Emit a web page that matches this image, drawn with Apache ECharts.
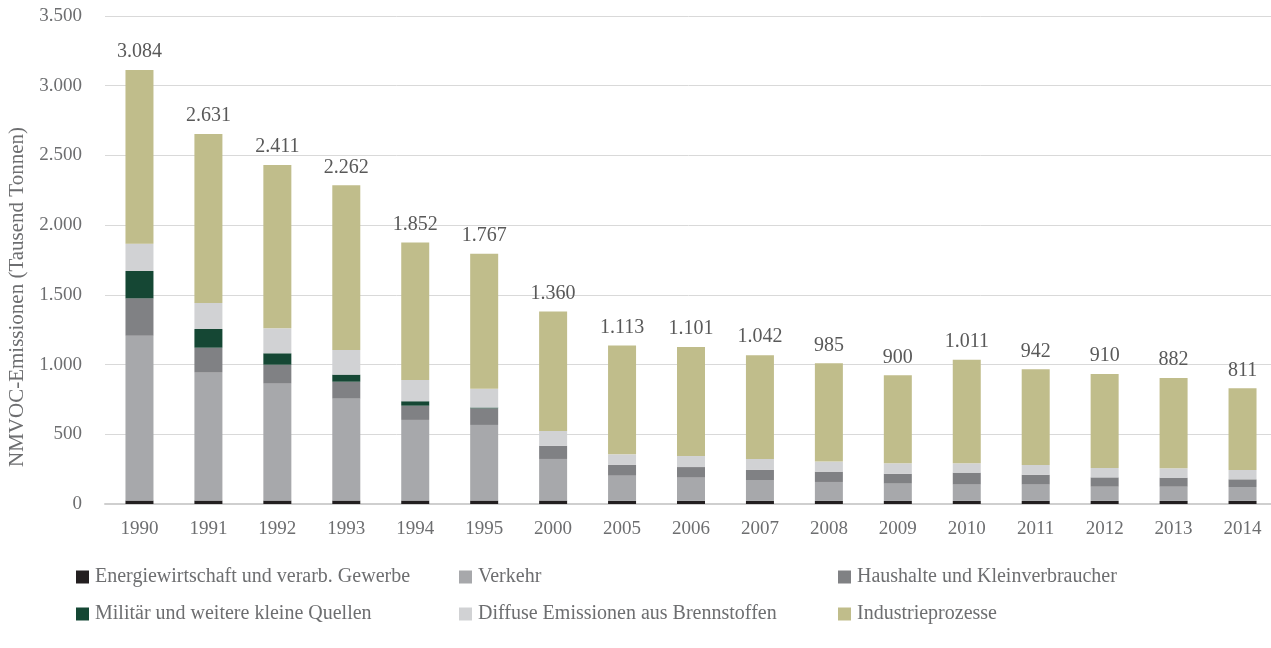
<!DOCTYPE html>
<html><head><meta charset="utf-8">
<script src="https://cdn.jsdelivr.net/npm/echarts@6/dist/echarts.min.js"></script>
<style>html,body{margin:0;padding:0;background:#fff}#c{width:1271px;height:648px}</style>
</head><body><div id="c"></div>
<script>
const categories = ['1990','1991','1992','1993','1994','1995','2000','2005','2006','2007','2008','2009','2010','2011','2012','2013','2014'];
const energie   = [25,25,25,25,25,25,25,22,22,22,22,22,22,22,22,22,22];
const verkehr   = [1182,917,838,731,578,542,298,181,167,150,136,124,117,117,102,102,100];
const haushalte = [268,179,136,121,102,119,95,77,76,74,74,71,86,71,67,65,55];
const militaer  = [196,134,82,51,32,6,0,0,0,0,0,0,0,0,0,0,0];
const diffuse   = [196,187,179,177,153,134,106,76,79,77,72,75,67,70,67,67,67];
const industrie = [1246,1212,1172,1181,985,968,856,780,782,744,705,631,743,686,675,648,586];
const totals    = [3084,2631,2411,2262,1852,1767,1360,1113,1101,1042,985,900,1011,942,910,882,811];
const yTicks = {min:0, max:3500, interval:500};

const names = ['Energiewirtschaft und verarb. Gewerbe','Verkehr','Haushalte und Kleinverbraucher','Militär und weitere kleine Quellen','Diffuse Emissionen aus Brennstoffen','Industrieprozesse'];
const colors = ['#231f20','#a7a8ab','#808184','#154734','#d1d2d4','#c0bd8b'];
const datas = [energie, verkehr, haushalte, militaer, diffuse, industrie];
const FONT = '"Liberation Serif", "DejaVu Serif", serif';
const TXT = '#6d6e70';
function fmt(v){ return String(v).replace(/\B(?=(\d{3})+(?!\d))/g, '.'); }

const series = names.map((n,i)=>{
  const s = {name:n, type:'bar', stack:'a', barWidth:28, data:datas[i], itemStyle:{color:colors[i]}};
  if (i===5) s.label = {show:true, position:'top', distance:8, color:'#595959', fontFamily:FONT, fontSize:20,
     formatter: p => fmt(totals[p.dataIndex])};
  return s;
});
function leg(left, data){
  return {orient:'vertical', left:left, top:562, itemWidth:13, itemHeight:13, itemGap:17, icon:'rect',
    data:data, textStyle:{fontFamily:FONT, fontSize:20, color:TXT, padding:[0,0,0,1]}, selectedMode:false};
}
const chart = echarts.init(document.getElementById('c'));
chart.setOption({
  animation:false,
  grid:{left:105, top:16, width:1172, height:488, containLabel:false, outerBoundsMode:'none'},
  legend:[leg(71,[names[0],names[3]]), leg(454,[names[1],names[4]]), leg(833,[names[2],names[5]])],
  xAxis:{type:'category', data:categories, axisTick:{show:false},
    axisLine:{lineStyle:{color:'#cfcfcf', width:2}},
    axisLabel:{margin:16, color:TXT, fontFamily:FONT, fontSize:19}},
  yAxis:{type:'value', min:yTicks.min, max:yTicks.max, interval:yTicks.interval,
    name:'NMVOC-Emissionen (Tausend Tonnen)', nameLocation:'middle', nameGap:62, nameRotate:90,
    nameTextStyle:{color:TXT, fontFamily:FONT, fontSize:21, padding:[0,74,0,0]},
    axisLine:{show:false}, axisTick:{show:false},
    splitLine:{lineStyle:{color:'#d9d9d9', width:1}},
    axisLabel:{margin:23, color:TXT, fontFamily:FONT, fontSize:19, formatter: v => fmt(v)}},
  series:series
});
</script></body></html>
